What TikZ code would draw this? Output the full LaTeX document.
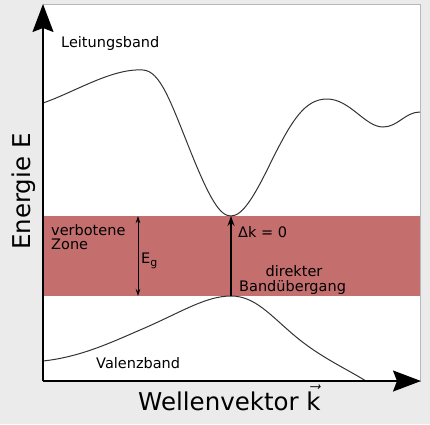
\documentclass[tikz,border=0pt]{standalone}
\usepackage{fontspec}
\setmainfont{DejaVu Sans}
\usetikzlibrary{arrows.meta}
\definecolor{bggray}{HTML}{EBEBEB}
\definecolor{bandred}{HTML}{C46E6E}
\definecolor{panelborder}{HTML}{B8B8B8}
\begin{document}
\begin{tikzpicture}[x=1pt,y=-1pt,
  lbl/.style={inner sep=0pt,font=\fontsize{14.5}{14}\selectfont,anchor=base west},
  biglbl/.style={inner sep=0pt,font=\fontsize{24.5}{28}\selectfont,anchor=base west},
  curve/.style={line width=1pt,black!80},
  axis/.style={line width=1.6pt,-{Stealth[length=28pt,width=21pt,inset=4pt]}}]
\useasboundingbox (0,0) rectangle (430,424);
\fill[bggray] (0,0) rectangle (430,424);
\filldraw[fill=white,draw=panelborder,line width=0.8pt] (43,4) rectangle (420,381);
% forbidden zone
\fill[bandred] (43,216) rectangle (420,296);
% conduction band
\draw[curve] (43,103) .. controls (75,92) and (112,68) .. (143,70)
  .. controls (160,71) and (170,100) .. (190,150)
  .. controls (210,200) and (220,216) .. (231,216)
  .. controls (243,216) and (255,195) .. (272,160)
  .. controls (292,120) and (305,99) .. (327,99)
  .. controls (350,99) and (365,127) .. (383,127)
  .. controls (398,127) and (405,112) .. (420,112);
% valence band
\draw[curve] (43,361) .. controls (80,357) and (110,343) .. (140,330)
  .. controls (180,313) and (205,296) .. (231,296)
  .. controls (255,296) and (270,315) .. (295,336)
  .. controls (320,357) and (345,368) .. (366,381);
% axes
\coordinate (origin) at (43,381);
\coordinate (ytip) at (43,4);
\coordinate (xtip) at (421,381);
\draw[axis] (origin) -- (ytip);
\draw[axis] (origin) -- (xtip);
% gap arrows
\coordinate (egtop) at (138,216);
\coordinate (egbot) at (138,296);
\draw[line width=0.8pt,{Stealth[length=7pt,width=4.5pt]}-{Stealth[length=7pt,width=4.5pt]}] (egbot) -- (egtop);
\coordinate (vbmax) at (231,296);
\coordinate (cbmin) at (231,216);
\draw[line width=1.5pt,-{Stealth[length=10pt,width=7pt]}] (vbmax) -- (cbmin);
% labels
\node[lbl] (leit) at (61,47) {Leitungsband};
\node[lbl] (verb) at (51,235) {verbotene};
\node[lbl] (zone) at (51,249) {Zone};
\node[lbl] (eg) at (141,263) {E\raisebox{-3pt}{\fontsize{11}{11}\selectfont g}};
\node[lbl] (dk) at (238,237) {Δk = 0};
\node[lbl,anchor=base] (dir) at (294,276) {direkter};
\node[lbl] (bu) at (239,291) {Bandübergang};
\node[lbl] (val) at (96,368) {Valenzband};
\node[biglbl] (wv) at (138,410) {Wellenvektor $\vec{\mbox{k}}$};
\node[biglbl,rotate=90] (en) at (30,250) {Energie E};
\end{tikzpicture}
\end{document}
